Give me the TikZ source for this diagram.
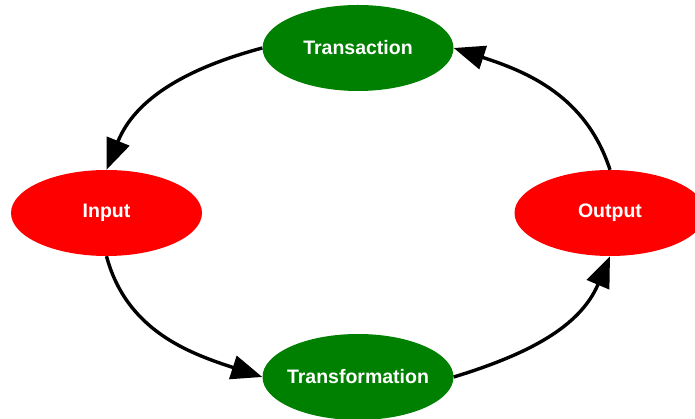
\documentclass[tikz,border=0pt]{standalone}
\usepackage{fontspec}
\setmainfont{Liberation Sans}
\usetikzlibrary{shapes.geometric,arrows.meta}
\definecolor{gvgreen}{HTML}{008000}
\definecolor{gvred}{HTML}{FF0000}
\newcommand{\stagelabel}[1]{\makebox[0pt]{#1}}
\tikzset{
  stage/.style={ellipse, minimum width=191pt, minimum height=86pt, inner sep=0pt,
    text=white, font=\bfseries\fontsize{19.5}{21}\selectfont},
  greenstage/.style={stage, fill=gvgreen},
  redstage/.style={stage, fill=gvred},
  flow/.style={line width=3.4pt, -{Triangle[length=31pt,width=24pt]}}
}
\begin{document}
\begin{tikzpicture}[x=1pt,y=1pt]
\useasboundingbox (0,0) rectangle (695,419);
\node[greenstage] (tr) at (358,371) {\stagelabel{Transaction}};
\node[redstage] (in) at (106.5,206) {\stagelabel{Input}};
\node[redstage] (out) at (610,206) {\stagelabel{Output}};
\node[greenstage] (tf) at (358,42) {\stagelabel{Transformation}};
\draw[flow] (tr.west) to[out=195,in=68] (in.north);
\draw[flow] (in.south) to[out=-75,in=162] (tf.west);
\draw[flow] (tf.east) to[out=17,in=247] (out.south);
\draw[flow] (out.north) to[out=108,in=-18] (tr.east);
\end{tikzpicture}
\end{document}
